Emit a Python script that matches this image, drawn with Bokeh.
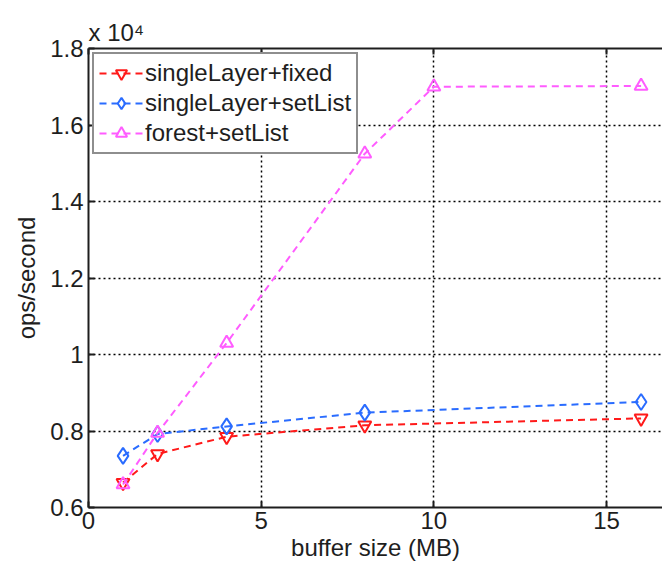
from bokeh.plotting import figure
from bokeh.models import Range1d, LinearAxis, FixedTicker, Legend, LegendItem, CustomJSTickFormatter
from bokeh.embed import file_html
from bokeh.resources import INLINE

# data (ops/second in units of 10^4)
buffer_mb = [1, 2, 4, 8, 16]
single_fixed = [0.665, 0.740, 0.785, 0.815, 0.833]
single_setlist = [0.735, 0.792, 0.812, 0.848, 0.876]
forest_x = [1, 2, 4, 8, 10, 16]
forest_setlist = [0.660, 0.795, 1.030, 1.525, 1.700, 1.702]

x_ticks = [0, 5, 10, 15]
y_ticks = [0.6, 0.8, 1.0, 1.2, 1.4, 1.6, 1.8]
y_tick_labels = {"0.6": "0.6", "0.8": "0.8", "1.0": "1", "1.2": "1.2", "1.4": "1.4", "1.6": "1.6", "1.8": "1.8"}
scale_text = "x 10\u2074"

FONT = "Liberation Sans"
FS = "24px"
INK = "#1e1e1e"

p = figure(width=662, height=567, output_backend="svg", toolbar_location=None,
           x_range=Range1d(0, 16.62), y_range=Range1d(0.6, 1.8),
           min_border_left=88, min_border_right=0, min_border_top=48, min_border_bottom=60,
           x_axis_label="buffer size (MB)", y_axis_label="ops/second")
p.outline_line_color = None
p.background_fill_color = "white"
p.border_fill_color = "white"

p.title.text = scale_text
p.title.align = "left"
p.title.text_font = FONT
p.title.text_font_size = FS
p.title.text_font_style = "normal"
p.title.text_color = INK
p.title.standoff = 6
p.title.offset = 0

for ax in (p.xaxis[0], p.yaxis[0]):
    ax.axis_line_color = INK
    ax.axis_line_width = 2
    ax.major_tick_in = 6
    ax.major_tick_out = 0
    ax.minor_tick_line_color = None
    ax.major_tick_line_color = INK
    ax.major_tick_line_width = 2
    ax.major_label_text_font = FONT
    ax.major_label_text_font_size = FS
    ax.major_label_text_color = INK
    ax.axis_label_text_font = FONT
    ax.axis_label_text_font_size = FS
    ax.axis_label_text_font_style = "normal"
    ax.axis_label_text_color = INK

p.xaxis[0].ticker = FixedTicker(ticks=x_ticks)
p.yaxis[0].ticker = FixedTicker(ticks=y_ticks)
p.yaxis[0].formatter = CustomJSTickFormatter(args=dict(m=y_tick_labels), code="""
const k = tick.toFixed(1);
return (k in m) ? m[k] : k;
""")
p.xaxis[0].major_label_standoff = 4
p.xaxis[0].axis_label_standoff = 2
p.yaxis[0].major_label_standoff = 5
p.yaxis[0].axis_label_standoff = 7

top = LinearAxis(ticker=FixedTicker(ticks=x_ticks),
                 formatter=CustomJSTickFormatter(code="return '';"),
                 major_tick_in=6, major_tick_out=0, minor_tick_line_color=None,
                 axis_line_color=INK, axis_line_width=2,
                 major_tick_line_color=INK, major_tick_line_width=2,
                 major_label_standoff=0)
p.add_layout(top, "above")

p.xgrid.ticker = FixedTicker(ticks=[5, 10, 15])
p.ygrid.ticker = FixedTicker(ticks=[0.8, 1.0, 1.2, 1.4, 1.6])
for g in (p.xgrid[0], p.ygrid[0]):
    g.grid_line_color = "black"
    g.grid_line_dash = "2 3"
    g.grid_line_width = 1.5

RED = "#ff1a1a"
BLUE = "#2a6cff"
MAG = "#ff5cff"
DASH = "7 5"

l1 = p.line(buffer_mb, single_fixed, line_color=RED, line_width=2, line_dash=DASH)
m1 = p.scatter(buffer_mb, single_fixed, marker="inverted_triangle", size=13,
               fill_color=None, line_color=RED, line_width=2)
l2 = p.line(buffer_mb, single_setlist, line_color=BLUE, line_width=2, line_dash=DASH)
m2 = p.scatter(buffer_mb, single_setlist, marker="diamond", size=16,
               fill_color=None, line_color=BLUE, line_width=2)
l3 = p.line(forest_x, forest_setlist, line_color=MAG, line_width=2, line_dash=DASH)
m3 = p.scatter(forest_x, forest_setlist, marker="triangle", size=13,
               fill_color=None, line_color=MAG, line_width=2)

legend = Legend(items=[
    LegendItem(label="singleLayer+fixed", renderers=[l1, m1]),
    LegendItem(label="singleLayer+setList", renderers=[l2, m2]),
    LegendItem(label="forest+setList", renderers=[l3, m3]),
], location="top_left")
legend.margin = 4
legend.padding = 5
legend.spacing = 2
legend.glyph_width = 44
legend.glyph_height = 28
legend.label_height = 28
legend.label_standoff = 2
legend.label_text_font = FONT
legend.label_text_font_size = FS
legend.label_text_color = INK
legend.border_line_color = INK
legend.border_line_width = 2
legend.background_fill_alpha = 1
p.add_layout(legend)

open("out.html", "w").write(file_html(p, INLINE))
